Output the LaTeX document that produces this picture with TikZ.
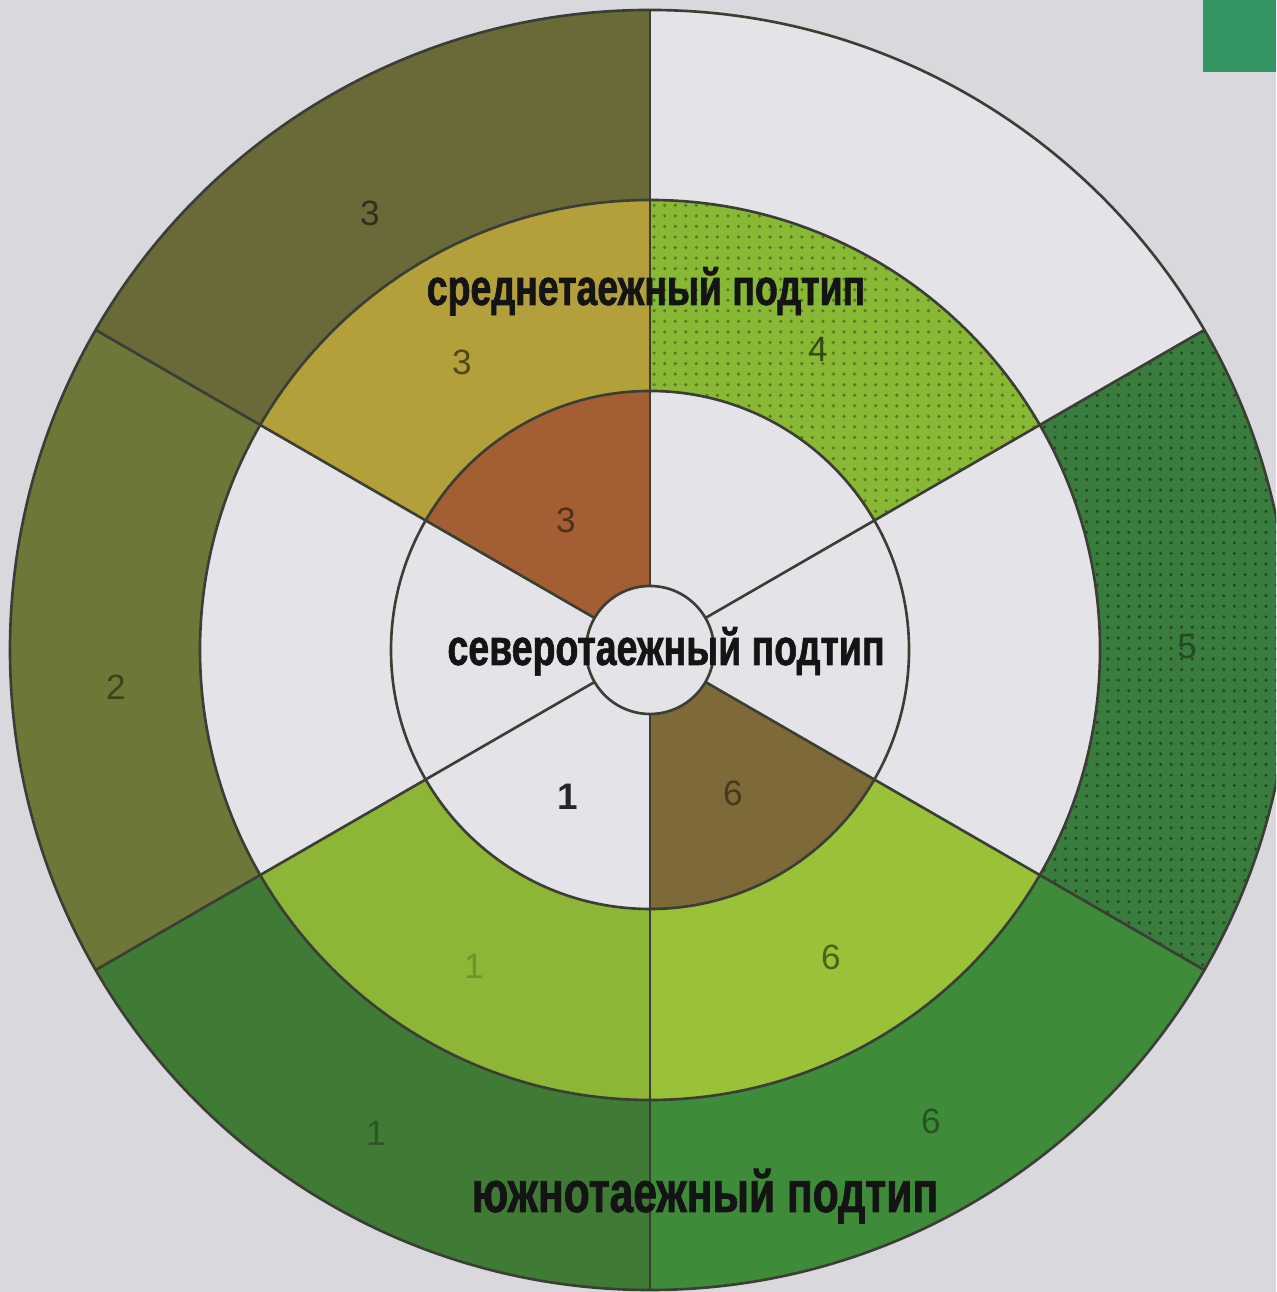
\documentclass[tikz,border=0pt]{standalone}
\usepackage{fontspec}
\setmainfont{Liberation Sans}
\newfontfamily\titlefont{Liberation Sans Bold}[FakeStretch=0.735,FakeBold=1.2]
\newfontfamily\numfont{Liberation Sans}
\usetikzlibrary{patterns}

% palette
\definecolor{bgcol}{HTML}{D8D8DD}
\definecolor{paper}{HTML}{E4E4E8}
\definecolor{edge}{HTML}{3A3E34}
\definecolor{tab}{HTML}{349462}
\definecolor{oliveA}{HTML}{6A6938}
\definecolor{oliveB}{HTML}{6E7638}
\definecolor{darkC}{HTML}{3F7B34}
\definecolor{greenD}{HTML}{3E8B3A}
\definecolor{darkE}{HTML}{3A7C3E}
\definecolor{mustard}{HTML}{B3A03A}
\definecolor{limeC}{HTML}{8DB536}
\definecolor{limeD}{HTML}{9AC238}
\definecolor{limeF}{HTML}{88B834}
\definecolor{rust}{HTML}{A35E33}
\definecolor{umber}{HTML}{7E6A38}

% annular sector: colour, start angle, end angle, inner radius, outer radius
\newcommand\annsector[5]{%
  \fill[#1] (#2:#5) arc[start angle=#2,end angle=#3,radius=#5]
     -- (#3:#4) arc[start angle=#3,end angle=#2,radius=#4] -- cycle;}
% dotted overlay on an annular sector: dot colour, start, end, inner, outer
\newcommand\dotsector[5]{%
  \fill[pattern=dots,pattern color=#1] (#2:#5) arc[start angle=#2,end angle=#3,radius=#5]
     -- (#3:#4) arc[start angle=#3,end angle=#2,radius=#4] -- cycle;}

\tikzset{
  ringline/.style={draw=edge,line width=0.75pt},
  numlabel/.style={font=\numfont\fontsize{10}{12}\selectfont,inner sep=0pt,text=#1},
  title/.style={font=\titlefont\fontsize{14.5}{16}\selectfont,inner sep=0pt,anchor=base,text=black!92},
}

\begin{document}
\begin{tikzpicture}[x=0.01cm,y=0.01cm]
\useasboundingbox (0,0) rectangle (1276,1292);
\clip (0,0) rectangle (1276,1292);
\fill[bgcol] (0,0) rectangle (1276,1292);

\begin{scope}[shift={(650,642)}]
  % base disc
  \fill[paper] (0,0) circle[radius=640];
  % outer ring
  \annsector{oliveA}{90}{150}{450}{640}
  \annsector{oliveB}{150}{210}{450}{640}
  \annsector{darkC}{210}{270}{450}{640}
  \annsector{greenD}{270}{330}{450}{640}
  \annsector{darkE}{-30}{30}{450}{640}
  \dotsector{black!40!darkE}{-30}{30}{450}{640}
  % middle ring
  \annsector{mustard}{90}{150}{259}{450}
  \annsector{limeC}{210}{270}{259}{450}
  \annsector{limeD}{270}{330}{259}{450}
  \annsector{limeF}{30}{90}{259}{450}
  \dotsector{black!35!limeF}{30}{90}{259}{450}
  % inner ring
  \annsector{rust}{90}{150}{64}{259}
  \annsector{umber}{270}{330}{64}{259}
  \fill[paper] (0,0) circle[radius=64];

  % ring outlines and sector dividers
  \foreach \r in {64,259,450,640} \draw[ringline] (0,0) circle[radius=\r];
  \foreach \a in {30,90,150,210,270,330} \draw[ringline] (\a:64) -- (\a:640);
\end{scope}

% corner tab
\fill[tab] (1203,1220) rectangle (1276,1292);

% sector numbers
\node[numlabel=oliveA!45!black] (nA3) at (370,1079) {3};
\node[numlabel=mustard!45!black] (nA2) at (462,930) {3};
\node[numlabel=rust!50!black] (nA1) at (566,772) {3};
\node[numlabel=limeF!40!black] (nF2) at (818,943) {4};
\node[numlabel=darkE!60!black] (nE3) at (1187,645) {5};
\node[numlabel=oliveB!55!black] (nB3) at (116,605) {2};
\node[numlabel=black!85,font=\numfont\bfseries\fontsize{10.5}{12}\selectfont] (nC1) at (568,495) {1};
\node[numlabel=umber!55!black] (nD1) at (733,499) {6};
\node[numlabel=limeC!80!black] (nC2) at (474,326) {1};
\node[numlabel=limeD!50!black] (nD2) at (831,335) {6};
\node[numlabel=darkC!70!black] (nC3) at (376,159) {1};
\node[numlabel=greenD!60!black] (nD3) at (931,171) {6};

% subtype titles
\node[title] (tmid) at (646,987) {среднетаежный подтип};
\node[title] (tnorth) at (666,627) {северотаежный подтип};
\node[title,font=\titlefont\fontsize{16.5}{18}\selectfont] (tsouth) at (705,80) {южнотаежный подтип};
\end{tikzpicture}
\end{document}
